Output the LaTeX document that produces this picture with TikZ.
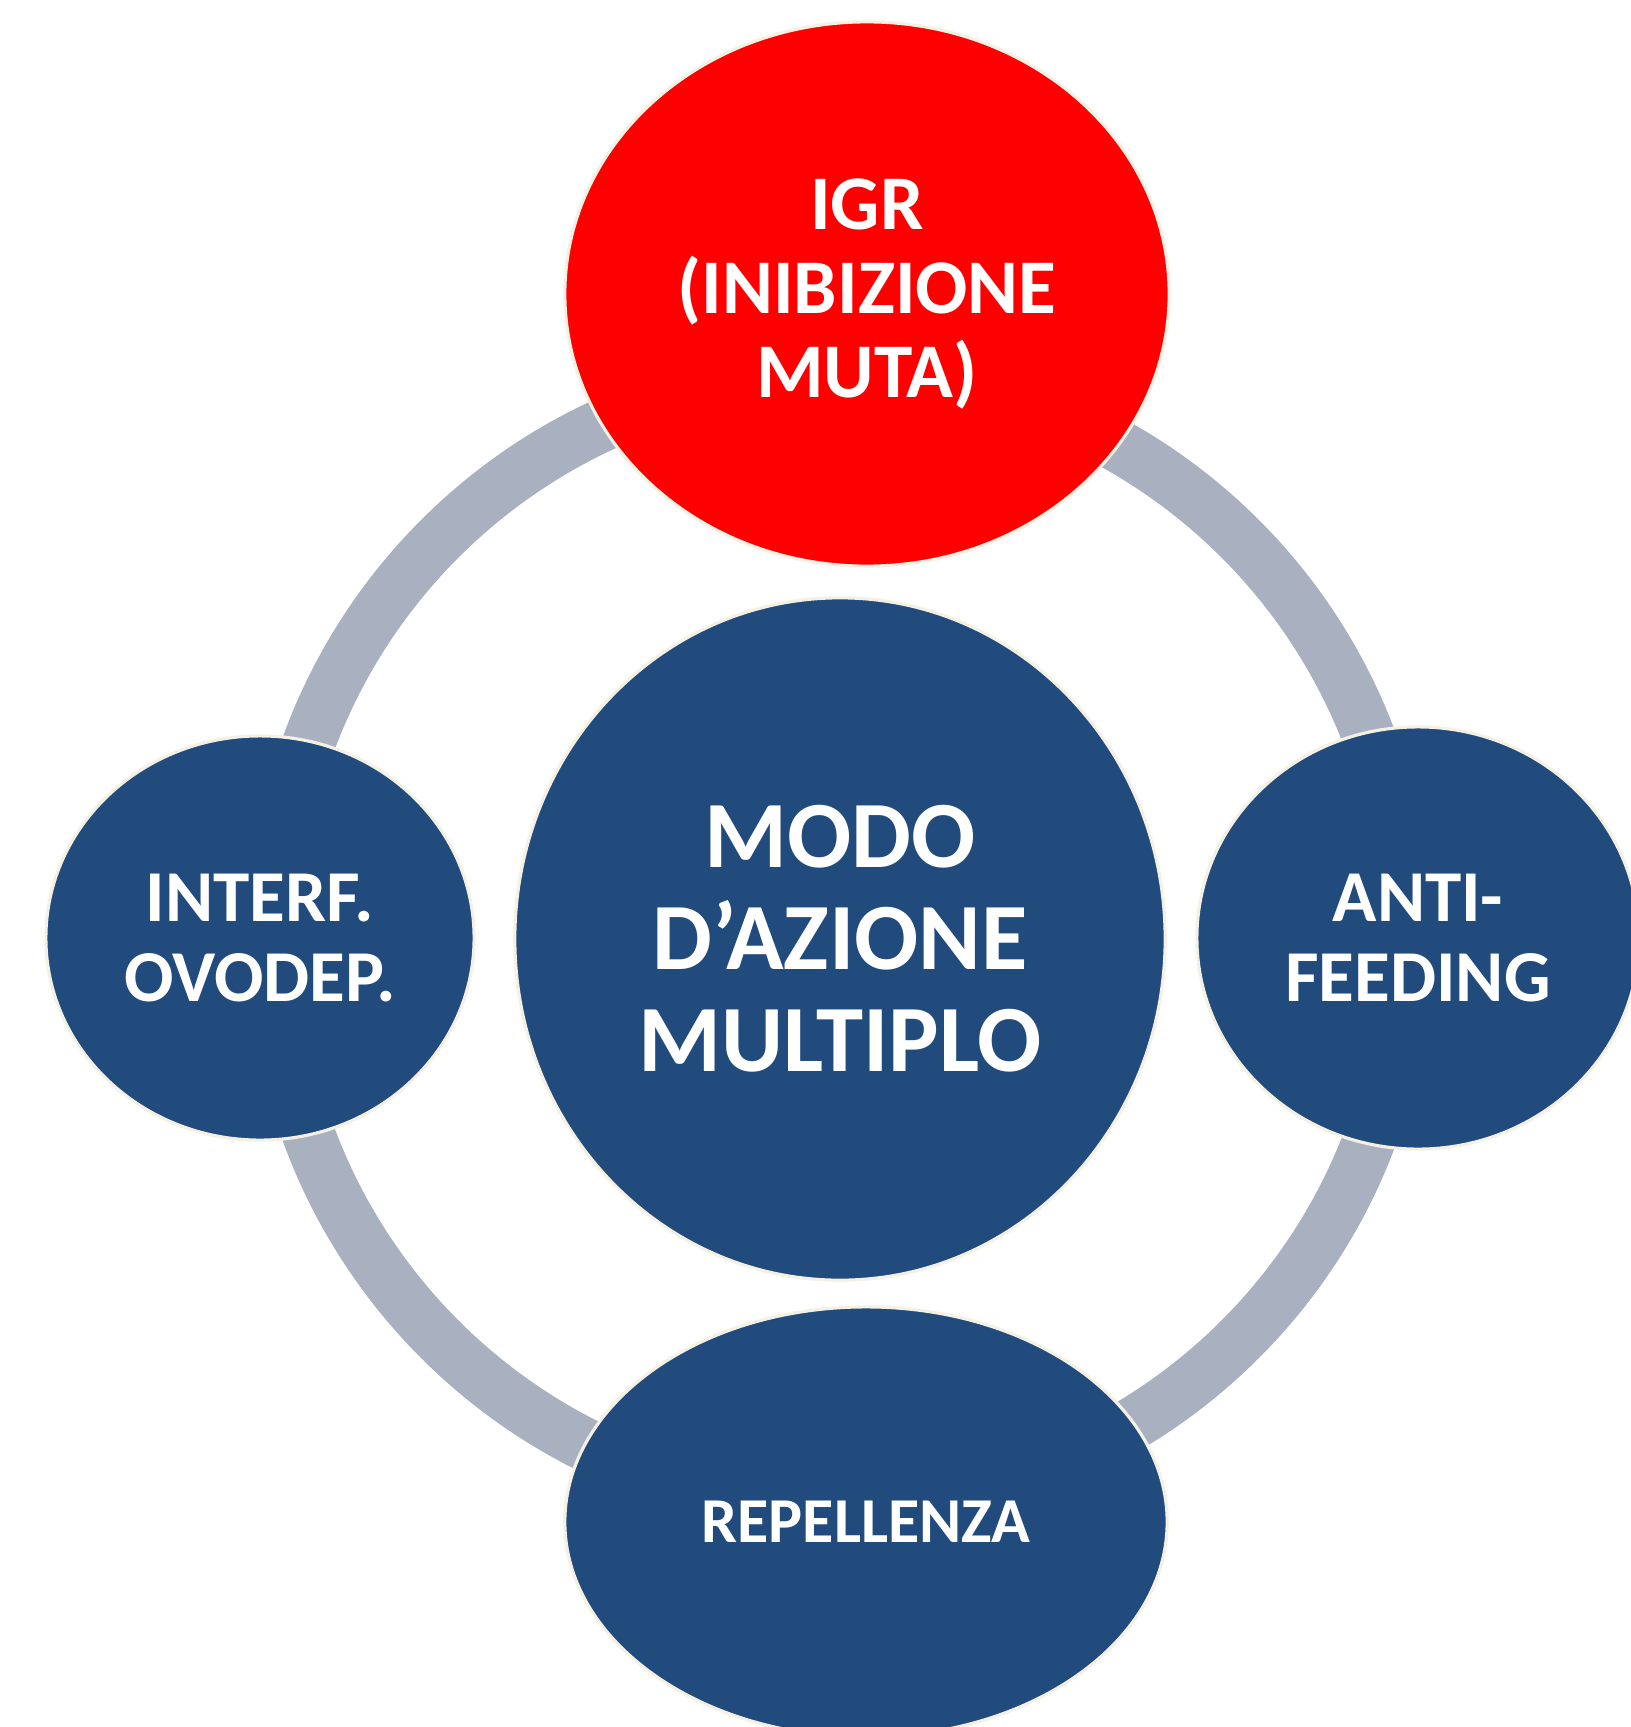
\documentclass[tikz,border=0pt]{standalone}
\usepackage{fontspec}
\setmainfont{Carlito}
\usetikzlibrary{shapes.geometric}
\definecolor{ringgray}{RGB}{169,176,191}
\definecolor{navyfill}{RGB}{33,74,125}
\definecolor{igrred}{RGB}{255,0,0}
\definecolor{rimcol}{RGB}{244,240,228}
\begin{document}
\begin{tikzpicture}[x=0.01cm,y=-0.01cm,
  bubble/.style={ellipse, draw=rimcol, line width=0.9pt, inner sep=0pt, text=white, align=center},
  bigtxt/.style={font=\fontsize{27}{29}\selectfont\bfseries},
  redtxt/.style={font=\fontsize{22}{24}\selectfont\bfseries},
  sidetxt/.style={font=\fontsize{20.8}{22.8}\selectfont\bfseries},
  bottxt/.style={font=\fontsize{18.2}{20}\selectfont\bfseries},
  ringline/.style={draw=ringgray, line width=0.53cm}]
\useasboundingbox (0,0) rectangle (1630,1727);
\fill[white] (0,0) rectangle (1630,1727);
\coordinate (hub) at (840,939);
\draw[ringline] (hub) circle [radius=566];
\node[bubble, fill=igrred, redtxt, minimum width=6.04cm, minimum height=5.44cm] (igr) at (867,294) {IGR\\(INIBIZIONE\\MUTA)};
\node[bubble, fill=navyfill, bigtxt, minimum width=6.50cm, minimum height=6.82cm] (modo) at (840,939) {MODO\\D’AZIONE\\MULTIPLO};
\node[bubble, fill=navyfill, sidetxt, minimum width=4.28cm, minimum height=4.04cm] (interf) at (260,938) {INTERF.\\OVODEP.};
\node[bubble, fill=navyfill, sidetxt, minimum width=4.42cm, minimum height=4.22cm] (anti) at (1418,938) {ANTI-\\FEEDING};
\node[bubble, fill=navyfill, bottxt, minimum width=6.02cm, minimum height=4.30cm] (rep) at (866,1522) {REPELLENZA};
\end{tikzpicture}
\end{document}
